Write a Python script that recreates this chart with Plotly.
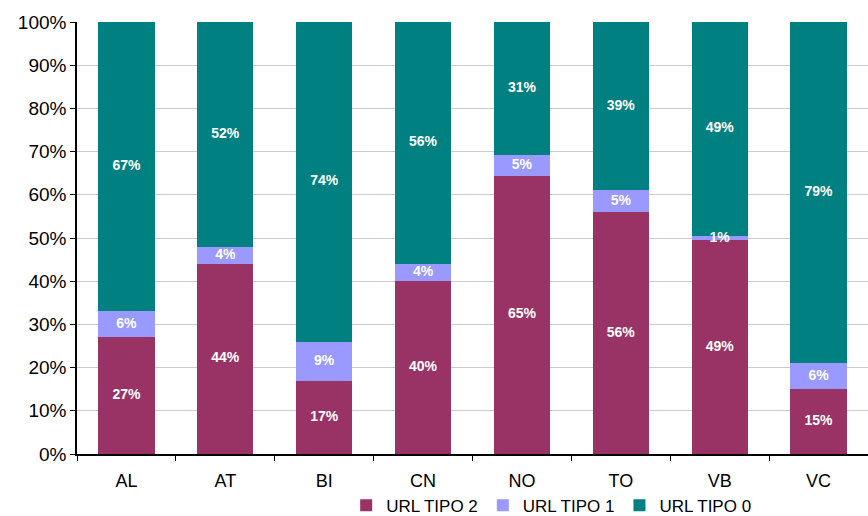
import numpy as np
import plotly.graph_objects as go

# Share of URL types per province (percent)
categories = ["AL", "AT", "BI", "CN", "NO", "TO", "VB", "VC"]
tipo2 = [27, 44, 17, 40, 65, 56, 49, 15]
tipo1 = [6, 4, 9, 4, 5, 5, 1, 6]
tipo0 = [67, 52, 74, 56, 31, 39, 49, 79]
series_names = ["URL TIPO 2", "URL TIPO 1", "URL TIPO 0"]
tick_vals = [0, 10, 20, 30, 40, 50, 60, 70, 80, 90, 100]
tick_text = ["0%", "10%", "20%", "30%", "40%", "50%", "60%", "70%", "80%", "90%", "100%"]

colors = ["#993366", "#9999FF", "#008080"]
series = [tipo2, tipo1, tipo0]

fig = go.Figure()
for name, vals, col in zip(series_names, series, colors):
    fig.add_trace(go.Bar(
        x=categories, y=vals, name=name,
        marker=dict(color=col, line=dict(width=0)),
        textposition="none", hoverinfo="x+y+name",
    ))

# Value labels centred in each stacked segment (normalised to 100%)
arr = np.array(series, dtype=float)
totals = arr.sum(axis=0)
norm = arr / totals * 100
cum = np.cumsum(norm, axis=0)
mids = cum - norm / 2
for i, vals in enumerate(series):
    fig.add_trace(go.Scatter(
        x=categories, y=mids[i], mode="text",
        text=[f"{v}%" for v in vals],
        textfont=dict(family="Liberation Sans, Arial, sans-serif", size=14, color="white", weight="bold"),
        showlegend=False, hoverinfo="skip", cliponaxis=False,
    ))

font = "Liberation Sans, Arial, sans-serif"
fig.update_layout(
    barmode="stack", barnorm="percent", bargap=0.43,
    width=868, height=516,
    margin=dict(l=77, r=0, t=22, b=62, autoexpand=False),
    paper_bgcolor="white", plot_bgcolor="white",
    font=dict(family=font, size=17, color="black"),
    showlegend=True,
    legend=dict(orientation="h", traceorder="normal",
                xref="container", yref="container",
                x=0.635, xanchor="center", y=0.02, yanchor="middle",
                font=dict(size=17), itemwidth=30, tracegroupgap=0,
                bgcolor="rgba(0,0,0,0)"),
    xaxis=dict(showline=True, linecolor="black", linewidth=1.5,
               ticks="outside", ticklen=5, tickcolor="black", tickson="boundaries",
               showgrid=False, tickfont=dict(size=18), ticklabelstandoff=10),
    yaxis=dict(range=[0, 100], tickvals=tick_vals, ticktext=tick_text,
               showline=True, linecolor="black", linewidth=1.5,
               ticks="outside", ticklen=5, tickcolor="black",
               showgrid=True, gridcolor="#cccccc", gridwidth=1,
               zeroline=False, tickfont=dict(size=19)),
)

fig.write_html("out.html")
